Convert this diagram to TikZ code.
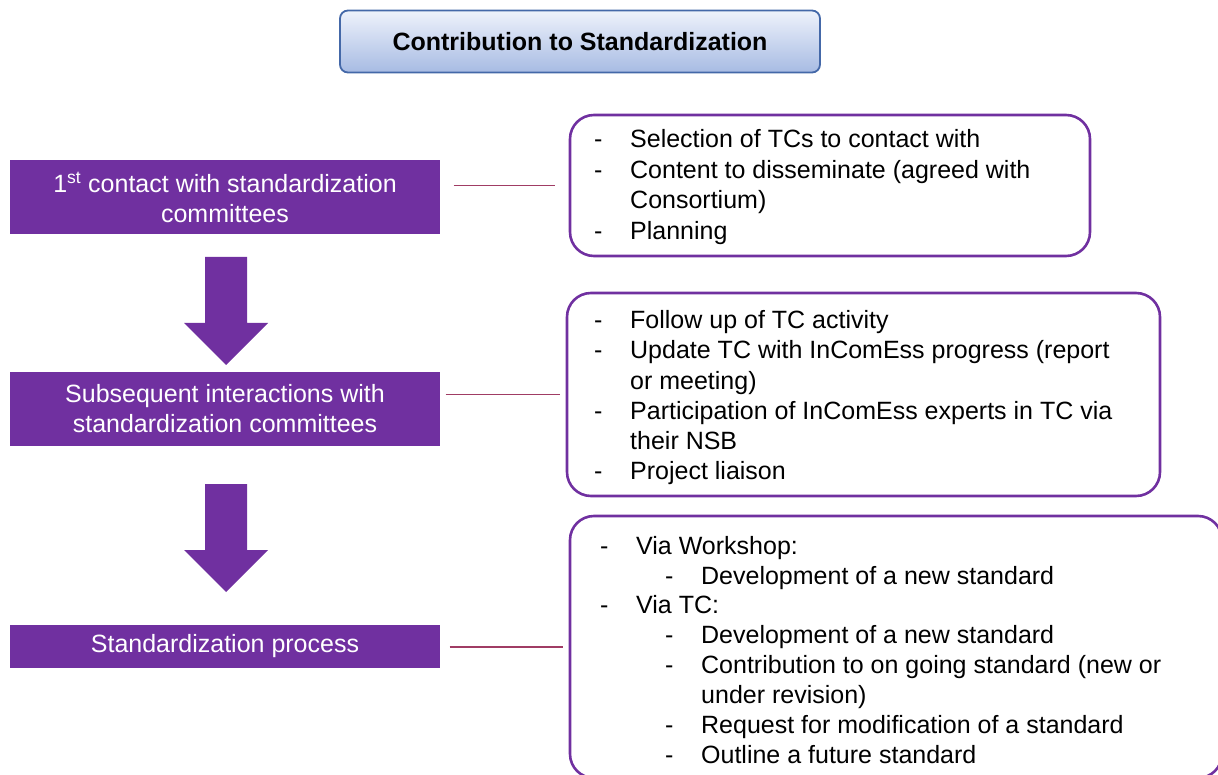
\documentclass[tikz,border=0pt]{standalone}
\usepackage{fontspec}
\setmainfont{Liberation Sans}
\usetikzlibrary{calc}
\definecolor{purp}{HTML}{7030A0}
\definecolor{conn}{RGB}{160,60,100}
\definecolor{titletop}{HTML}{EEF2FB}
\definecolor{titlebot}{HTML}{A7BBE3}
\definecolor{titleedge}{HTML}{4468A8}
\tikzset{
  pbox/.style={fill=purp, draw=none, text=white, align=center, inner sep=0pt,
    minimum width=430pt, font=\fontsize{25}{30}\selectfont},
  rbox/.style={draw=purp, line width=2.6pt, rounded corners=24pt, inner sep=0pt},
  itemtext/.style={anchor=base west, inner sep=0pt, font=\fontsize{25}{30}\selectfont},
  conline/.style={draw=conn, line width=1.6pt},
  blockarrow/.style={fill=purp, draw=none},
  titlebox/.style={draw=titleedge, line width=1.8pt, rounded corners=8pt,
    top color=titletop, bottom color=titlebot, inner sep=0pt,
    minimum width=480pt, minimum height=62pt, font=\fontsize{25}{30}\selectfont\bfseries}
}
\begin{document}
\begin{tikzpicture}[x=1pt,y=-1pt]
\useasboundingbox (0,0) rectangle (1218,775);
\clip (0,0) rectangle (1218,775);

% title
\node[titlebox] (title) at (580,41.5) {Contribution to Standardization};

% purple boxes
\node[pbox, minimum height=74pt] (b1) at (225,197) {1\textsuperscript{st} contact with standardization\\committees};
\node[pbox, minimum height=74pt] (b2) at (225,409) {Subsequent interactions with\\standardization committees};
\node[pbox, minimum height=43pt] (b3) at (225,646.5) {Standardization process};

% block arrows
\fill[blockarrow] (205,257) -- (247,257) -- (247,323) -- (268,323) -- (226,365) -- (184,323) -- (205,323) -- cycle;
\fill[blockarrow] (205,484) -- (247,484) -- (247,550) -- (268,550) -- (226,592) -- (184,550) -- (205,550) -- cycle;

% rounded boxes
\node[rbox, minimum width=520pt, minimum height=141pt] (ra) at (830,185.5) {};
\node[rbox, minimum width=593pt, minimum height=203pt] (rb) at (863.5,394.5) {};
\node[rbox, minimum width=652pt, minimum height=262pt] (rc) at (896,647) {};

% connectors
\draw[conline] ([xshift=-115pt]ra.west) -- ([xshift=-14pt]ra.west);
\draw[conline] ([xshift=-120pt]rb.west) -- ([xshift=-6pt]rb.west);
\draw[conline] ([xshift=-119pt]rc.west) -- ([xshift=-6pt]rc.west);

% box A text
\node[itemtext] (a1) at (594,148) {\makebox[36pt][l]{-}Selection of TCs to contact with};
\node[itemtext] (a2) at (594,178.5) {\makebox[36pt][l]{-}Content to disseminate (agreed with};
\node[itemtext] (a3) at (594,209) {\makebox[36pt][l]{}Consortium)};
\node[itemtext] (a4) at (594,239.5) {\makebox[36pt][l]{-}Planning};

% box B text
\node[itemtext] (bb1) at (594,329) {\makebox[36pt][l]{-}Follow up of TC activity};
\node[itemtext] (bb2) at (594,359) {\makebox[36pt][l]{-}Update TC with InComEss progress (report};
\node[itemtext] (bb3) at (594,389) {\makebox[36pt][l]{}or meeting)};
\node[itemtext] (bb4) at (594,419) {\makebox[36pt][l]{-}Participation of InComEss experts in TC via};
\node[itemtext] (bb5) at (594,449) {\makebox[36pt][l]{}their NSB};
\node[itemtext] (bb6) at (594,479) {\makebox[36pt][l]{-}Project liaison};

% box C text
\node[itemtext] (c1) at (600,554) {\makebox[36pt][l]{-}Via Workshop:};
\node[itemtext] (c2) at (665,584) {\makebox[36pt][l]{-}Development of a new standard};
\node[itemtext] (c3) at (600,613) {\makebox[36pt][l]{-}Via TC:};
\node[itemtext] (c4) at (665,643) {\makebox[36pt][l]{-}Development of a new standard};
\node[itemtext] (c5) at (665,673) {\makebox[36pt][l]{-}Contribution to on going standard (new or};
\node[itemtext] (c6) at (665,703) {\makebox[36pt][l]{}under revision)};
\node[itemtext] (c7) at (665,733) {\makebox[36pt][l]{-}Request for modification of a standard};
\node[itemtext] (c8) at (665,763) {\makebox[36pt][l]{-}Outline a future standard};
\end{tikzpicture}
\end{document}
